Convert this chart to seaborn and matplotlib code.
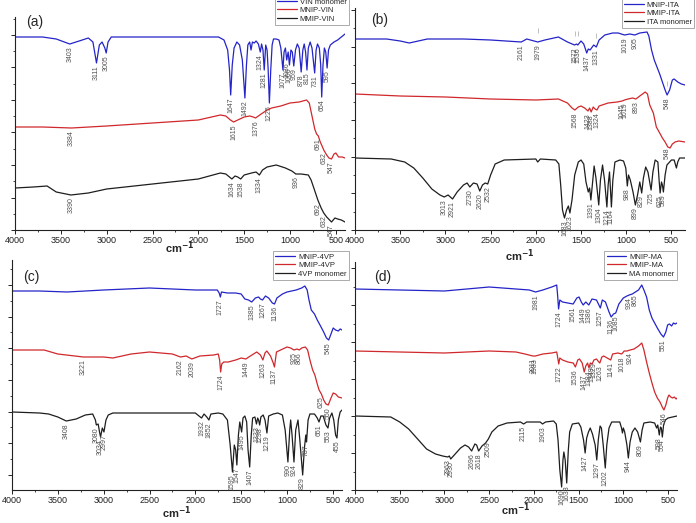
import numpy as np
import matplotlib
matplotlib.use("Agg")
import matplotlib.pyplot as plt
import seaborn as sns
from matplotlib.ticker import MultipleLocator, FixedLocator

# FTIR spectra: (wavenumber cm-1, transmittance a.u.)
# (a) VIN
vin_monomer = [(4000, 193), (3700, 193), (3550, 191), (3403, 186), (3300, 189), (3200, 192), (3150, 188),
               (3111, 167), (3080, 185), (3050, 188), (3020, 182), (3005, 177), (2985, 188), (2950, 193),
               (2500, 193), (2000, 193), (1780, 193), (1720, 190), (1680, 180), (1660, 160), (1647, 135),
               (1630, 165), (1610, 182), (1580, 188), (1550, 185), (1520, 170), (1492, 132), (1475, 165),
               (1460, 185), (1440, 188), (1425, 180), (1410, 188), (1390, 187), (1370, 189), (1345, 186),
               (1324, 178), (1310, 186), (1295, 180), (1281, 160), (1265, 185), (1250, 180), (1238, 160),
               (1225, 127), (1210, 160), (1195, 185), (1180, 191), (1150, 191), (1120, 190), (1100, 182),
               (1077, 160), (1065, 178), (1050, 182), (1036, 170), (1020, 178), (1006, 165), (990, 180),
               (975, 178), (959, 164), (940, 180), (920, 186), (900, 182), (878, 158), (860, 180),
               (845, 186), (830, 178), (815, 160), (800, 182), (780, 188), (760, 182), (731, 157),
               (715, 180), (700, 186), (680, 182), (665, 165), (654, 133), (640, 165), (625, 182),
               (610, 178), (595, 162), (580, 180), (560, 185), (520, 188), (480, 190), (440, 193), (400, 196)]
mnip_vin = [(4000, 103), (3700, 103), (3384, 102), (3000, 104), (2500, 107), (2000, 110), (1760, 115),
            (1700, 114), (1650, 110), (1615, 108), (1570, 110), (1500, 113), (1440, 114), (1400, 113),
            (1376, 112), (1330, 115), (1250, 120), (1200, 122), (1100, 124), (1000, 127), (900, 128),
            (820, 130), (790, 127), (760, 114), (730, 101), (710, 96), (691, 94), (670, 88), (650, 84),
            (632, 80), (600, 75), (575, 72), (547, 71), (520, 76), (500, 77), (470, 73), (430, 73), (400, 72)]
mmip_vin = [(4000, 42), (3800, 43), (3650, 44), (3550, 38), (3390, 35), (3200, 37), (3000, 41), (2500, 46),
            (2000, 51), (1760, 57), (1700, 56), (1634, 51), (1600, 54), (1570, 53), (1538, 51), (1500, 55),
            (1420, 57), (1370, 58), (1334, 55), (1300, 60), (1250, 63), (1150, 65), (1050, 62), (980, 59),
            (936, 56), (880, 56), (800, 55), (770, 50), (740, 42), (700, 31), (692, 29), (660, 22),
            (632, 17), (600, 13), (547, 8), (510, 12), (480, 11), (440, 10), (400, 8)]
vin_monomer_peaks = [3403, 3111, 3005, 1647, 1492, 1324, 1281, 1225, 1077, 1036, 1006, 959, 878, 815, 731, 654, 595]
mnip_vin_peaks = [3384, 1615, 1376, 691, 632, 547]
mmip_vin_peaks = [3390, 1634, 1538, 1334, 936, 692, 632, 547]

# (b) ITA
mnip_ita = [(4000, 191), (3650, 191), (3500, 189), (3400, 187), (3300, 189), (3200, 191), (2800, 191),
            (2500, 190), (2161, 188), (2100, 191), (1979, 188), (1900, 190), (1750, 193), (1650, 188),
            (1572, 185), (1550, 186), (1536, 185), (1500, 189), (1470, 186), (1437, 177), (1420, 181),
            (1400, 180), (1360, 185), (1331, 183), (1300, 190), (1237, 195), (1150, 197), (1089, 197),
            (1019, 195), (960, 196), (905, 195), (850, 197), (770, 198), (750, 194), (720, 180),
            (690, 170), (660, 163), (630, 156), (600, 148), (570, 140), (548, 135), (520, 140),
            (490, 150), (470, 151), (430, 148), (390, 146), (350, 145)]
mmip_ita = [(4000, 136), (3500, 134), (3000, 133), (2500, 131), (2000, 130), (1750, 131), (1650, 127),
            (1600, 122), (1568, 120), (1530, 123), (1500, 124), (1460, 122), (1423, 119), (1405, 122),
            (1388, 118), (1365, 123), (1345, 121), (1324, 120), (1300, 124), (1200, 127), (1100, 128),
            (1045, 129), (1019, 130), (980, 131), (930, 132), (893, 131), (850, 134), (790, 138),
            (765, 136), (740, 125), (700, 117), (667, 103), (630, 97), (600, 92), (570, 88), (540, 83),
            (515, 82), (490, 86), (459, 88), (420, 89), (350, 88)]
ita_monomer = [(4000, 72), (3600, 71), (3450, 68), (3350, 62), (3250, 52), (3150, 41), (3060, 35), (3013, 33),
               (2970, 35), (2921, 31), (2870, 38), (2800, 45), (2760, 47), (2730, 43), (2690, 47), (2650, 46),
               (2620, 39), (2590, 45), (2560, 47), (2532, 46), (2500, 55), (2450, 66), (2350, 70), (2000, 71),
               (1979, 68), (1950, 71), (1780, 70), (1745, 66), (1725, 45), (1705, 20), (1683, 12), (1660, 20),
               (1640, 24), (1623, 17), (1600, 30), (1570, 55), (1530, 68), (1500, 70), (1470, 66), (1445, 48),
               (1420, 38), (1405, 42), (1391, 30), (1375, 45), (1355, 64), (1335, 52), (1304, 25), (1285, 50),
               (1262, 65), (1240, 50), (1214, 23), (1200, 45), (1185, 58), (1164, 23), (1148, 50), (1125, 68),
               (1070, 70), (1030, 69), (1005, 62), (988, 44), (975, 55), (955, 50), (925, 38), (899, 25),
               (875, 35), (850, 48), (829, 37), (810, 52), (785, 63), (760, 58), (725, 40), (705, 58),
               (680, 70), (650, 68), (635, 48), (625, 37), (610, 48), (600, 45), (589, 38), (570, 55),
               (550, 65), (500, 70), (470, 70), (445, 62), (430, 68), (410, 72), (350, 72)]
mnip_ita_peaks = [2161, 1979, 1572, 1536, 1437, 1331, 1019, 905, 548]
mmip_ita_peaks = [1568, 1423, 1388, 1324, 1045, 1019, 893, 548]
ita_monomer_peaks = [3013, 2921, 2730, 2620, 2532, 1683, 1623, 1391, 1304, 1214, 1164, 988, 899, 829, 725, 625, 589]
mnip_ita_marks = [1979, 1572, 1536, 1331, 548]

# (c) 4VP
mnip_4vp = [(4000, 199), (3700, 199), (3400, 198), (3000, 200), (2500, 202), (2000, 200), (1760, 200),
            (1740, 197), (1727, 193), (1715, 198), (1650, 197), (1560, 197), (1500, 196), (1460, 191),
            (1420, 190), (1385, 188), (1345, 192), (1310, 193), (1290, 191), (1267, 190), (1235, 194),
            (1200, 192), (1160, 187), (1136, 186), (1110, 192), (1050, 196), (1000, 198), (900, 200),
            (840, 202), (805, 204), (780, 200), (760, 190), (735, 180), (700, 176), (670, 170), (640, 165),
            (600, 158), (570, 152), (545, 150), (520, 156), (496, 162), (470, 160), (440, 159), (420, 161),
            (400, 160)]
mmip_4vp = [(4000, 140), (3650, 140), (3500, 136), (3221, 133), (3000, 133), (2900, 132), (2700, 136),
            (2500, 138), (2250, 136), (2162, 133), (2100, 134), (2039, 131), (1950, 134), (1800, 135),
            (1750, 136), (1735, 130), (1724, 118), (1712, 126), (1690, 128), (1640, 128), (1560, 130),
            (1500, 132), (1449, 131), (1400, 134), (1330, 138), (1290, 135), (1263, 130), (1240, 137),
            (1220, 139), (1180, 134), (1150, 127), (1137, 123), (1115, 138), (1070, 140), (1000, 143),
            (960, 142), (925, 140), (890, 141), (866, 140), (840, 142), (800, 143), (775, 140), (750, 130),
            (720, 120), (696, 115), (670, 106), (650, 100), (625, 96), (600, 90), (575, 86), (550, 85),
            (520, 92), (496, 97), (470, 96), (440, 93), (400, 92)]
vp_monomer = [(4000, 78), (3700, 77), (3600, 76), (3500, 73), (3408, 69), (3300, 71), (3200, 75), (3120, 76),
              (3090, 70), (3080, 65), (3060, 66), (3045, 58), (3034, 53), (3015, 62), (2997, 58), (2975, 70),
              (2950, 75), (2900, 77), (2500, 77), (2000, 77), (1960, 74), (1932, 72), (1905, 76), (1875, 73),
              (1852, 70), (1830, 76), (1750, 77), (1700, 76), (1650, 70), (1620, 45), (1595, 18), (1575, 45),
              (1560, 40), (1547, 25), (1530, 55), (1515, 68), (1495, 58), (1480, 72), (1460, 74), (1440, 68),
              (1425, 40), (1407, 23), (1390, 55), (1375, 72), (1350, 73), (1333, 66), (1320, 72), (1310, 70),
              (1298, 65), (1285, 73), (1260, 75), (1240, 70), (1219, 57), (1200, 74), (1150, 76), (1100, 77),
              (1050, 75), (1020, 60), (990, 28), (970, 60), (960, 70), (945, 55), (924, 28), (905, 60),
              (880, 70), (860, 50), (829, 15), (810, 42), (795, 55), (787, 48), (770, 70), (750, 76),
              (700, 76), (670, 72), (651, 68), (630, 74), (605, 74), (575, 65), (553, 62), (535, 72),
              (510, 77), (490, 70), (470, 55), (455, 52), (440, 70), (420, 78), (400, 80)]
mnip_4vp_peaks = [1727, 1385, 1267, 1136, 545]
mmip_4vp_peaks = [3221, 2162, 2039, 1724, 1449, 1263, 1137, 925, 866, 625, 550]
vp_monomer_peaks = [3408, 3080, 3034, 2997, 1932, 1852, 1595, 1547, 1495, 1407, 1333, 1298, 1219,
                    990, 924, 829, 787, 651, 553, 455]

# (d) MA
mnip_ma = [(4000, 201), (3500, 200), (3000, 199), (2500, 203), (2200, 201), (2050, 200), (1981, 198),
           (1900, 200), (1800, 203), (1745, 205), (1735, 195), (1724, 181), (1710, 190), (1680, 188),
           (1620, 187), (1561, 186), (1520, 192), (1495, 193), (1470, 188), (1449, 185), (1420, 188),
           (1386, 185), (1350, 191), (1300, 190), (1257, 182), (1235, 190), (1200, 188), (1160, 178),
           (1136, 173), (1110, 176), (1085, 177), (1050, 186), (1000, 192), (960, 194), (934, 195),
           (900, 196), (865, 198), (830, 200), (794, 205), (770, 200), (740, 193), (710, 180), (680, 172),
           (650, 167), (620, 162), (580, 156), (551, 153), (525, 158), (505, 165), (485, 166), (460, 164),
           (440, 167), (420, 166), (400, 167)]
mmip_ma = [(4000, 139), (3500, 138), (3000, 137), (2500, 139), (2200, 138), (2100, 136), (2011, 134),
           (1983, 134), (1900, 136), (1800, 137), (1745, 138), (1735, 133), (1722, 126), (1710, 132),
           (1680, 130), (1620, 128), (1560, 127), (1536, 123), (1510, 130), (1490, 131), (1460, 127),
           (1437, 118), (1420, 124), (1400, 127), (1384, 122), (1369, 127), (1349, 126), (1329, 130),
           (1300, 131), (1283, 129), (1263, 127), (1240, 133), (1220, 134), (1180, 132), (1141, 130),
           (1120, 136), (1060, 137), (1018, 136), (990, 139), (960, 139), (924, 140), (880, 141),
           (830, 144), (794, 147), (770, 140), (740, 128), (710, 117), (680, 107), (650, 98), (620, 92),
           (590, 88), (565, 83), (546, 80), (525, 85), (505, 92), (490, 95), (470, 93), (450, 92),
           (430, 93), (410, 91), (400, 92)]
ma_monomer = [(4000, 74), (3600, 73), (3500, 68), (3400, 61), (3300, 51), (3200, 41), (3100, 36), (3020, 34),
              (2963, 33), (2945, 34), (2930, 31), (2880, 36), (2820, 42), (2770, 45), (2730, 43), (2696, 39),
              (2660, 46), (2640, 45), (2618, 39), (2580, 44), (2540, 47), (2509, 51), (2470, 58), (2400, 64),
              (2300, 67), (2150, 68), (2115, 66), (2080, 68), (2000, 68), (1930, 68), (1903, 66), (1870, 68),
              (1780, 69), (1750, 66), (1730, 50), (1710, 20), (1690, 3), (1675, 30), (1665, 38), (1650, 30),
              (1633, 7), (1615, 40), (1600, 58), (1570, 66), (1500, 67), (1475, 63), (1445, 50), (1427, 37),
              (1410, 52), (1390, 58), (1370, 62), (1345, 56), (1315, 45), (1297, 30), (1280, 50), (1260, 64),
              (1245, 62), (1225, 45), (1202, 22), (1185, 45), (1160, 62), (1130, 68), (1080, 68), (1040, 68),
              (1020, 62), (1010, 57), (1000, 62), (985, 58), (960, 45), (944, 32), (925, 48), (900, 58),
              (870, 62), (840, 58), (809, 48), (790, 60), (770, 67), (700, 68), (650, 67), (628, 62),
              (615, 65), (598, 55), (585, 63), (575, 62), (564, 53), (550, 65), (530, 70), (500, 72),
              (450, 73), (400, 74)]
mnip_ma_peaks = [1981, 1724, 1561, 1449, 1386, 1257, 1136, 1085, 934, 865, 551]
mmip_ma_peaks = [2011, 1983, 1722, 1536, 1437, 1384, 1349, 1329, 1263, 1141, 1018, 924, 546]
ma_monomer_peaks = [2963, 2930, 2696, 2618, 2509, 2115, 1903, 1690, 1633, 1427, 1297, 1202, 944, 809, 598, 564]

x_ticks = [4000, 3500, 3000, 2500, 2000, 1500, 1000, 500]

sns.set_style("ticks")
plt.rcParams['font.family'] = ['Liberation Sans', 'DejaVu Sans']

BLUE = '#2424c8'
RED = '#d0282c'
BLACK = '#1e1e1e'
W, H = 696, 523

fig = plt.figure(figsize=(W / 100, H / 100), dpi=100)


def make_axes(left, top, right, bottom):
    return fig.add_axes([left / W, 1 - bottom / H, (right - left) / W, (bottom - top) / H])


def to_arrays(spec):
    w = np.array([p[0] for p in spec], dtype=float)
    t = np.array([p[1] for p in spec], dtype=float)
    order = np.argsort(w)
    return w[order], t[order]


def draw_spectrum(ax, spec, peaks, color, name):
    w, t = to_arrays(spec)
    sns.lineplot(x=w, y=t, ax=ax, color=color, lw=0.9, label=name)
    for pk in peaks:
        yv = np.interp(pk, w, t)
        ax.annotate(str(pk), (pk, yv), xytext=(0, -1.5), textcoords='offset points',
                    rotation=90, ha='center', va='top', fontsize=5, color='#505050')


panels = [
    dict(box=(15, 17, 345, 230), xlim=(4000, 400), ylim=(0, 213), ytick0=0, ystep=32.5,
         tag='(a)', tag_xy=(35, 22), leg_xy=(349, -4), xlab_y=248,
         series=[(vin_monomer, vin_monomer_peaks, BLUE, 'VIN monomer'),
                 (mnip_vin, mnip_vin_peaks, RED, 'MNIP-VIN'),
                 (mmip_vin, mmip_vin_peaks, BLACK, 'MMIP-VIN')]),
    dict(box=(355, 8, 685, 230), xlim=(4000, 350), ylim=(0, 222), ytick0=0, ystep=36.7,
         tag='(b)', tag_xy=(380, 20), leg_xy=(694, -1), xlab_y=256,
         series=[(mnip_ita, mnip_ita_peaks, BLUE, 'MNIP-ITA'),
                 (mmip_ita, mmip_ita_peaks, RED, 'MMIP-ITA'),
                 (ita_monomer, ita_monomer_peaks, BLACK, 'ITA monomer')]),
    dict(box=(12, 260, 342, 490), xlim=(4000, 400), ylim=(0, 230), ytick0=15, ystep=31.7,
         tag='(c)', tag_xy=(31, 277), leg_xy=(349, 251), xlab_y=513,
         series=[(mnip_4vp, mnip_4vp_peaks, BLUE, 'MNIP-4VP'),
                 (mmip_4vp, mmip_4vp_peaks, RED, 'MMIP-4VP'),
                 (vp_monomer, vp_monomer_peaks, BLACK, '4VP monomer')]),
    dict(box=(355, 262, 677, 490), xlim=(4000, 400), ylim=(0, 228), ytick0=0, ystep=37,
         tag='(d)', tag_xy=(383, 277), leg_xy=(677, 251), xlab_y=510,
         series=[(mnip_ma, mnip_ma_peaks, BLUE, 'MNIP-MA'),
                 (mmip_ma, mmip_ma_peaks, RED, 'MMIP-MA'),
                 (ma_monomer, ma_monomer_peaks, BLACK, 'MA monomer')]),
]

axes = []
for p in panels:
    ax = make_axes(*p['box'])
    axes.append(ax)
    for spec, peaks, color, name in p['series']:
        draw_spectrum(ax, spec, peaks, color, name)

    ax.set_xlim(*p['xlim'])
    ax.set_ylim(*p['ylim'])
    ax.xaxis.set_major_locator(FixedLocator(x_ticks))
    ax.xaxis.set_minor_locator(MultipleLocator(250))
    yt = np.arange(p['ytick0'], p['ylim'][1], p['ystep'])
    ax.yaxis.set_major_locator(FixedLocator(yt))
    ax.yaxis.set_minor_locator(FixedLocator(yt + p['ystep'] / 2))
    ax.set_yticklabels([])
    ax.tick_params(axis='x', which='major', length=3, width=0.7, pad=1.5, labelsize=6.5, colors='#222222')
    ax.tick_params(axis='x', which='minor', length=1.6, width=0.6)
    ax.tick_params(axis='y', which='major', length=2.6, width=0.7)
    ax.tick_params(axis='y', which='minor', length=1.5, width=0.6)
    for s in ['top', 'right']:
        ax.spines[s].set_visible(False)
    for s in ['left', 'bottom']:
        ax.spines[s].set_linewidth(0.8)
        ax.spines[s].set_color('#222222')
    ax.set_xlabel('')
    ax.set_ylabel('')
    ax.patch.set_alpha(0)

    x0, _, x1, _ = p['box']
    fig.text((x0 + x1) / 2 / W, 1 - p['xlab_y'] / H, r'cm$^{\mathbf{-1}}$', fontsize=8,
             fontweight='bold', ha='center', va='center')
    fig.text(p['tag_xy'][0] / W, 1 - p['tag_xy'][1] / H, p['tag'], fontsize=10,
             ha='center', va='center')

    leg = ax.legend(loc='upper right', bbox_to_anchor=(p['leg_xy'][0] / W, 1 - p['leg_xy'][1] / H),
                    bbox_transform=fig.transFigure, fontsize=5.5, frameon=True, fancybox=False,
                    edgecolor='#8a8a8a', framealpha=1, borderpad=0.3, labelspacing=0.15,
                    handlelength=2.6, handletextpad=0.4, borderaxespad=0)
    leg.get_frame().set_linewidth(0.5)
    for line in leg.get_lines():
        line.set_linewidth(0.9)

# faint peak markers above the MNIP-ITA trace in (b)
w_b, t_b = to_arrays(mnip_ita)
for pk in mnip_ita_marks:
    yv = np.interp(pk, w_b, t_b)
    axes[1].vlines(pk, yv + 9, yv + 14, color='#b4b4b4', lw=0.6)

fig.savefig('out.png', dpi=100)
